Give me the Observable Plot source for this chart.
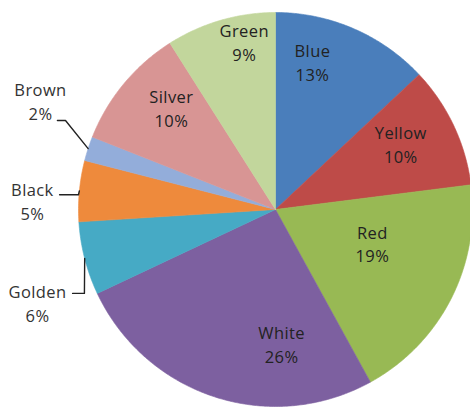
<!DOCTYPE html>
<html>
<head>
<meta charset="utf-8">
<script src="https://cdn.jsdelivr.net/npm/d3@7"></script>
<script src="https://cdn.jsdelivr.net/npm/@observablehq/plot@0.6"></script>
<style>
  html, body { margin: 0; padding: 0; background: #fff; }
  #chart { width: 470px; height: 408px; }
  #chart svg text { letter-spacing: 0.4px; }
</style>
</head>
<body>
<div id="chart"></div>
<script>
// ---- data ----
const categories = ["Blue", "Yellow", "Red", "White", "Golden", "Black", "Brown", "Silver", "Green"];
const values = [13, 10, 19, 26, 6, 5, 2, 10, 9];
const colors = ["#4A7EBB", "#BE4B48", "#98B954", "#7D60A0", "#46AAC5", "#EE8A3C", "#93ADDA", "#D89594", "#C2D69C"];

// ---- label layout (inside labels: angle in degrees clockwise from top, radius fraction) ----
const insideLabels = {
  Blue: [14, 0.775], Yellow: [62, 0.72], Red: [109, 0.52], White: [177.4, 0.68],
  Silver: [314.4, 0.74], Green: [349.5, 0.87]
};
// outside labels: text anchor and leader path (elbow, end) in data units
const outsideLabels = {
  Brown:  {text: [-1.193, 0.556], path: [[-1.066, 0.452], [-1.107, 0.452]]},
  Black:  {text: [-1.234, 0.048], path: [[-1.000, 0.075], [-1.096, 0.075]]},
  Golden: {text: [-1.208, -0.470], path: [[-0.970, -0.426], [-1.030, -0.426]]}
};

// ---- build slices ----
const total = d3.sum(values);
const rad = (deg) => deg * Math.PI / 180;
const slicePts = [];
const midAngle = {};
let cum = 0;
categories.forEach((c, i) => {
  const a0 = cum / total * 360;
  const a1 = (cum + values[i]) / total * 360;
  cum += values[i];
  midAngle[c] = (a0 + a1) / 2;
  slicePts.push({cat: c, x: 0, y: 0});
  const n = Math.max(2, Math.ceil((a1 - a0) / 0.5));
  for (let k = 0; k <= n; k++) {
    const a = rad(a0 + (a1 - a0) * k / n);
    slicePts.push({cat: c, x: Math.sin(a), y: Math.cos(a)});
  }
  slicePts.push({cat: c, x: 0, y: 0});
});

const insideRows = [];
const outsideRows = [];
categories.forEach((c, i) => {
  const txt = c + "\n" + values[i] + "%";
  if (insideLabels[c]) {
    const [ang, r] = insideLabels[c];
    insideRows.push({x: r * Math.sin(rad(ang)), y: r * Math.cos(rad(ang)), text: txt});
  } else if (outsideLabels[c]) {
    const o = outsideLabels[c];
    outsideRows.push({x: o.text[0], y: o.text[1], text: txt});
  }
});

const leaderPts = [];
Object.entries(outsideLabels).forEach(([c, o]) => {
  const a = rad(midAngle[c]);
  leaderPts.push({cat: c, x: Math.sin(a), y: Math.cos(a)});
  o.path.forEach(([x, y]) => leaderPts.push({cat: c, x, y}));
});

const cx = 275, cy = 209, R = 197;
const chart = Plot.plot({
  width: 470,
  height: 408,
  margin: 0,
  style: {background: "#fff", fontFamily: "Open Sans"},
  x: {domain: [-1, 1], range: [cx - R, cx + R], axis: null},
  y: {domain: [-1, 1], range: [cy + R, cy - R], axis: null},
  color: {domain: categories, range: colors},
  marks: [
    Plot.line(slicePts, {x: "x", y: "y", z: "cat", fill: "cat", stroke: "cat", strokeWidth: 0.6, curve: "linear"}),
    Plot.line(leaderPts, {x: "x", y: "y", z: "cat", stroke: "#222", strokeWidth: 1.4, curve: "linear"}),
    Plot.text(insideRows, {x: "x", y: "y", text: "text", lineHeight: 1.45, fontSize: 16.5, fill: "#222", fontFamily: "Open Sans"}),
    Plot.text(outsideRows, {x: "x", y: "y", text: "text", lineHeight: 1.5, fontSize: 16.5, fill: "#333", fontFamily: "Open Sans"})
  ]
});
document.getElementById("chart").appendChild(chart);
</script>
</body>
</html>
